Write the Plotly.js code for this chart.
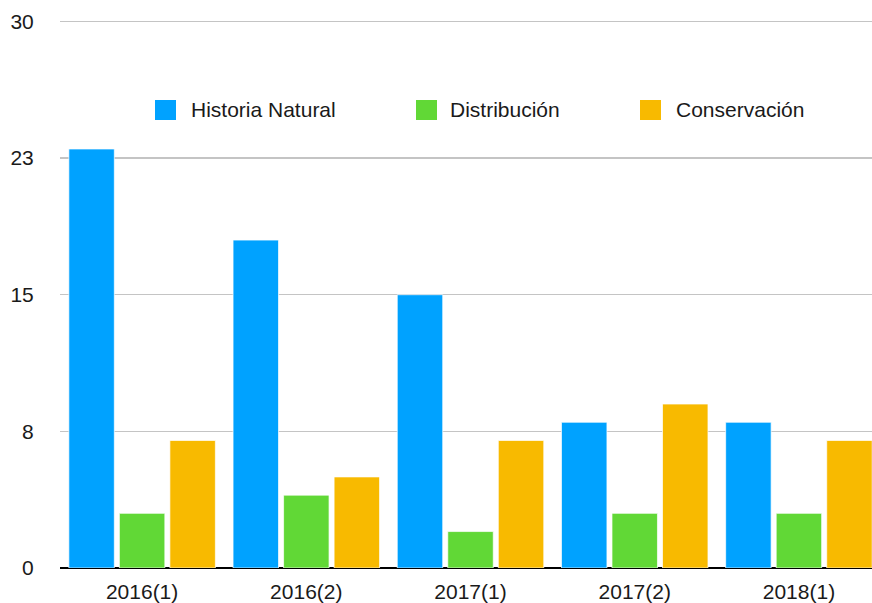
<!DOCTYPE html>
<html>
<head>
<meta charset="utf-8">
<script src="https://cdn.plot.ly/plotly-3.0.1.min.js"></script>
<style>html,body{margin:0;padding:0;overflow:hidden;background:#fff}#chart{width:872px;height:603px}</style>
</head>
<body>
<div id="chart"></div>
<script>
// Data
const categories = ['2016(1)', '2016(2)', '2017(1)', '2017(2)', '2018(1)'];
const seriesNames = ['Historia Natural', 'Distribución', 'Conservación'];
const historiaNatural = [23, 18, 15, 8, 8];
const distribucion = [3, 4, 2, 3, 3];
const conservacion = [7, 5, 7, 9, 7];
const yTickVals = [0, 7.5, 15, 22.5, 30];
const yTickText = ['0', '8', '15', '23', '30'];

const colors = ['#00A2FF', '#61D836', '#F8BA00'];
const seriesValues = [historiaNatural, distribucion, conservacion];

const W = 872, H = 603;
const M = {l: 60, r: 0, t: 16, b: 35};
const pw = W - M.l - M.r, ph = H - M.t - M.b;
const px2x = p => (p - M.l) / pw;
const py2y = p => (H - M.b - p) / ph;

const traces = seriesNames.map((name, i) => ({
  type: 'bar',
  name: name,
  x: categories,
  y: seriesValues[i],
  marker: {color: colors[i], line: {color: 'rgba(255,255,255,0.7)', width: 1}},
  showlegend: false,
  hoverinfo: 'x+y+name'
}));

// custom legend
const legSquareX = [155, 416, 640];
const legTextX = [189, 448, 674];
const legY = 110;
const shapes = [];
const annotations = [];
seriesNames.forEach((name, i) => {
  shapes.push({
    type: 'rect', xref: 'paper', yref: 'paper',
    x0: px2x(legSquareX[i]), x1: px2x(legSquareX[i] + 21),
    y0: py2y(legY + 10), y1: py2y(legY - 10),
    fillcolor: colors[i], line: {width: 0}
  });
  annotations.push({
    xref: 'paper', yref: 'paper', x: px2x(legTextX[i]), y: py2y(legY),
    xanchor: 'left', yanchor: 'middle', showarrow: false,
    text: name, font: {size: 21, color: '#1a1a1a'}
  });
});

const layout = {
  width: W, height: H,
  margin: M,
  paper_bgcolor: '#fff', plot_bgcolor: '#fff',
  font: {family: '"Liberation Sans", Arial, Helvetica, sans-serif', size: 21, color: '#1a1a1a'},
  barmode: 'group',
  bargap: 0.077,
  bargroupgap: 0.1,
  showlegend: false,
  xaxis: {
    type: 'category',
    range: [-0.5, 4.445],
    showgrid: false, showline: false, zeroline: false,
    ticks: 'outside', ticklen: 5, tickcolor: 'rgba(0,0,0,0)',
    tickfont: {size: 21, color: '#1a1a1a'},
    automargin: false, fixedrange: true
  },
  yaxis: {
    range: [0, 30.3],
    tickvals: yTickVals, ticktext: yTickText,
    showgrid: true, gridcolor: '#c4c4c4', gridwidth: 1.5,
    zeroline: true, zerolinecolor: '#000', zerolinewidth: 2,
    showline: false,
    ticks: 'outside', ticklen: 21, tickcolor: 'rgba(0,0,0,0)',
    tickfont: {size: 21, color: '#1a1a1a'},
    automargin: false, fixedrange: true
  },
  shapes: shapes,
  annotations: annotations
};

Plotly.newPlot('chart', traces, layout, {displayModeBar: false, staticPlot: true});
</script>
</body>
</html>
